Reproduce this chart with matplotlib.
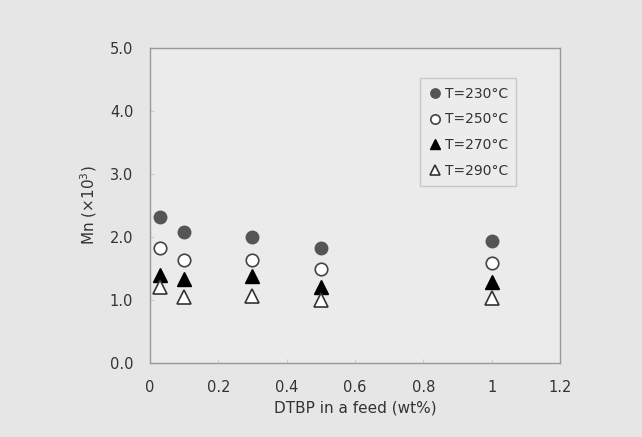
import numpy as np
import matplotlib.pyplot as plt

# DTBP content in feed (wt%)
dtbp = [0.03, 0.1, 0.3, 0.5, 1.0]

# Mn (x10^3) at each temperature
mn_230 = [2.32, 2.08, 2.00, 1.82, 1.93]
mn_250 = [1.82, 1.63, 1.63, 1.50, 1.59]
mn_270 = [1.40, 1.33, 1.38, 1.21, 1.29]
mn_290 = [1.21, 1.05, 1.06, 1.00, 1.03]

labels = ['T=230°C', 'T=250°C', 'T=270°C', 'T=290°C']

fig = plt.figure(figsize=(6.42, 4.37), dpi=100, facecolor='#e6e6e6')
ax = fig.add_axes([0.2336, 0.1693, 0.6386, 0.7208])
ax.set_facecolor('#ebebeb')

ax.plot(dtbp, mn_230, 'o', ms=9, color='#555555', mec='#555555', label=labels[0])
ax.plot(dtbp, mn_250, 'o', ms=9, mfc='white', mec='#444444', mew=1.2, label=labels[1])
ax.plot(dtbp, mn_270, '^', ms=10, color='black', label=labels[2])
ax.plot(dtbp, mn_290, '^', ms=10, mfc='white', mec='#333333', mew=1.2, label=labels[3])

ax.set_xlim(0, 1.2)
ax.set_ylim(0, 5.0)
ax.set_xticks(np.arange(0, 1.21, 0.2))
ax.set_xticklabels(['0', '0.2', '0.4', '0.6', '0.8', '1', '1.2'])
ax.set_yticks(np.arange(0, 5.01, 1.0))
ax.set_yticklabels(['%.1f' % v for v in np.arange(0, 5.01, 1.0)])

for s in ax.spines.values():
    s.set_color('#999999')
    s.set_linewidth(1.0)
ax.tick_params(direction='in', length=3, color='#cccccc', labelsize=10.5,
               labelcolor='#333333', pad=12)

ax.set_xlabel('DTBP in a feed (wt%)', fontsize=11, color='#333333', labelpad=4)
ax.set_ylabel('Mn (×10$^{3}$)', fontsize=11, color='#333333', labelpad=8)

leg = ax.legend(loc='upper right', bbox_to_anchor=(0.91, 0.926), fontsize=10,
                markerscale=0.75, handletextpad=0.2, handlelength=1.0,
                labelspacing=0.85, borderpad=0.6, fancybox=False, framealpha=1)
leg.get_frame().set_facecolor('#ececec')
leg.get_frame().set_edgecolor('#c8c8c8')
for t in leg.get_texts():
    t.set_color('#333333')

fig.savefig('out.png', dpi=100, facecolor=fig.get_facecolor())
